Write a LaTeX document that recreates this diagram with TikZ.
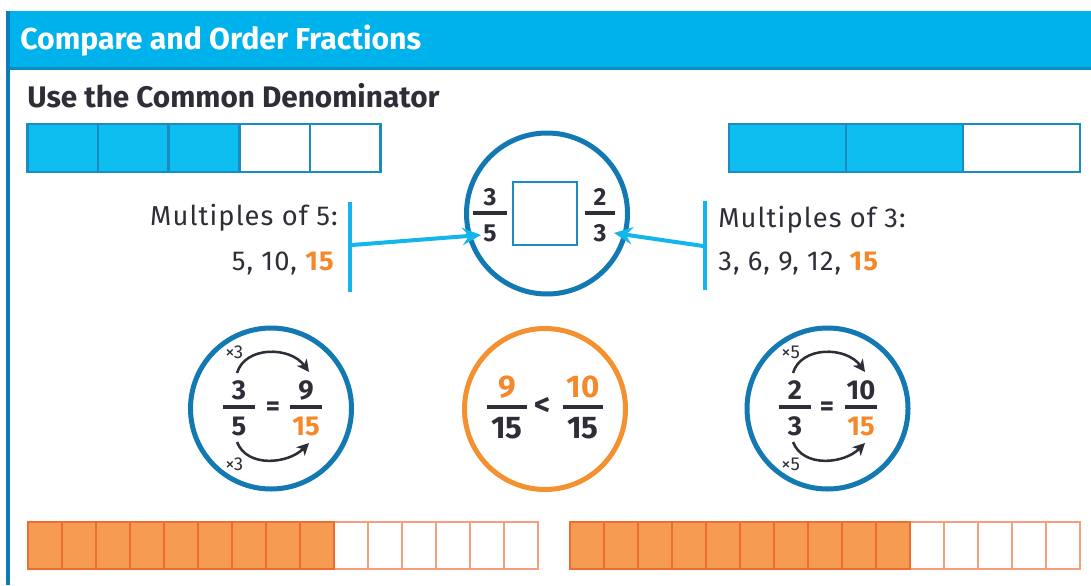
\documentclass[tikz,border=0pt]{standalone}
\usepackage{fontspec}
\setmainfont{Fira Sans}
\usetikzlibrary{arrows.meta}
\definecolor{hdr}{HTML}{00B2EC}
\definecolor{hdrdark}{HTML}{0A8FC4}
\definecolor{framec}{HTML}{0A7DB8}
\definecolor{barfill}{HTML}{0EBEF0}
\definecolor{barline}{HTML}{1A8CC0}
\definecolor{ringc}{HTML}{1379B2}
\definecolor{cyanarrow}{HTML}{12B6EB}
\definecolor{ink}{HTML}{2E2E38}
\definecolor{orng}{HTML}{F5892A}
\definecolor{orngring}{HTML}{F39130}
\definecolor{ofill}{HTML}{F59B52}
\definecolor{oline}{HTML}{EE6C2F}
\definecolor{olight}{HTML}{F4A07A}
\newcommand\tfnt{\fontsize{22.7}{26}\selectfont\bfseries}
\newcommand\sfnt{\fontsize{22.3}{26}\selectfont\bfseries}
\newcommand\mfnt{\fontsize{20.5}{24}\selectfont\addfontfeature{LetterSpace=4}}
\newcommand\dfntA{\fontsize{18.5}{22}\selectfont\bfseries}
\newcommand\dfntB{\fontsize{20.5}{24}\selectfont\bfseries}
\newcommand\dfntC{\fontsize{23.5}{27}\selectfont\bfseries}
\newcommand\xfnt{\fontsize{14}{17}\selectfont}
% name, x, bar y, half width, numerator, denominator, num baseline, den baseline, font style
\newcommand\fracat[9]{%
  \node[#9, anchor=base] (#1n) at (#2,#7) {#5};
  \draw[fbar] (#2-#4,#3) -- (#2+#4,#3);
  \node[#9, anchor=base] (#1d) at (#2,#8) {#6};}
\begin{document}
\begin{tikzpicture}[x=0.75pt,y=-0.75pt,
  txt/.style={inner sep=0pt, text=ink},
  mtxt/.style={txt, font=\mfnt},
  digA/.style={txt, font=\dfntA},
  digB/.style={txt, font=\dfntB},
  digC/.style={txt, font=\dfntC},
  xlab/.style={txt, font=\xfnt, anchor=base west},
  fbar/.style={ink, line width=3pt},
  tbar/.style={draw=barline, line width=1.9pt},
  ocell/.style={draw=oline, fill=ofill, line width=1.5pt},
  ecell/.style={draw=olight, fill=white, line width=1.5pt},
  ring/.style={circle, draw=ringc, line width=3.75pt, minimum size=120.75pt, inner sep=0pt},
  oring/.style={ring, draw=orngring},
  vline/.style={cyanarrow, line width=3.4pt},
  conn/.style={cyanarrow, line width=3pt, -{Stealth[length=14pt,width=13pt,inset=5pt]}},
  curv/.style={ink, line width=1.9pt, -{Stealth[length=9pt,width=9pt,inset=2.5pt]}}]
\useasboundingbox (0,0) rectangle (1091,585);
\fill[white] (0,0) rectangle (1091,585);
% header and frame
\fill[hdr] (7,11) rectangle (1091,69);
\draw[hdrdark, line width=1.6pt] (7,68.5) -- (1091,68.5);
\draw[framec, line width=2.4pt] (8,11) -- (8,585);
\node[txt, text=white, font=\tfnt, anchor=base west] (title) at (20,50) {Compare and Order Fractions};
\node[txt, font=\sfnt, anchor=base west] (sub) at (27,107) {Use the Common Denominator};
% top bars
\foreach \i in {3,4} \draw[tbar, fill=white] ({27.5+70.6*\i},124) rectangle ++(70.6,48);
\foreach \i in {0,1,2} \draw[tbar, fill=barfill] ({27.5+70.6*\i},124) rectangle ++(70.6,48);
\draw[tbar, fill=white] (963,124) rectangle (1080,172);
\foreach \i in {0,1} \draw[tbar, fill=barfill] ({729+117*\i},124) rectangle ++(117,48);
% comparison circle
\node[ring] (cmp) at (547,213.5) {};
\node[draw=barline, line width=1.5pt, minimum size=47.5pt, inner sep=0pt] (box) at (545,213.5) {};
\fracat{tl}{490}{213}{17}{3}{5}{205}{241}{digA}
\fracat{tr}{600}{213}{15}{2}{3}{205}{241}{digA}
% multiples
\node[mtxt, anchor=base east] (m5) at (338,225) {Multiples of 5:};
\node[mtxt, anchor=base east] (m5l) at (334,270) {5, 10, \textcolor{orng}{\bfseries 15}};
\node[mtxt, anchor=base west] (m3) at (718,227) {Multiples of 3:};
\node[mtxt, anchor=base west] (m3l) at (718,270) {3, 6, 9, 12, \textcolor{orng}{\bfseries 15}};
\coordinate (lvt) at (350,202); \coordinate (lvb) at (350,292);
\coordinate (rvt) at (705,201); \coordinate (rvb) at (705,290);
\draw[vline] (lvt) -- (lvb);
\draw[vline] (rvt) -- (rvb);
\coordinate (lfoot) at (352,245); \coordinate (ltip) at (481,235);
\coordinate (rfoot) at (703,246); \coordinate (rtip) at (614,233);
\draw[conn] (lfoot) -- (ltip);
\draw[conn] (rfoot) -- (rtip);
% left equivalence circle
\node[ring] (eqa) at (271,408.5) {};
\fracat{aa}{239}{407}{16}{3}{5}{399}{435}{digB}
\node[digB, anchor=base] (eqas) at (273,415) {=};
\fracat{ab}{306}{407}{16}{9}{\textcolor{orng}{15}}{399}{435}{digB}
\node[xlab] (xa1) at (225,358) {×3};
\node[xlab] (xa2) at (225,470) {×3};
\draw[curv] (237,373) .. controls (245,346) and (290,346) .. (309,372);
\draw[curv] (237,442) .. controls (247,468) and (288,464) .. (309,443);
% comparison result circle
\node[oring] (res) at (545,409) {};
\fracat{ra}{507}{407}{20}{\textcolor{orng}{9}}{15}{397}{438}{digC}
\node[digC, anchor=base] (lt) at (543,415) {<};
\fracat{rb}{583}{407}{20}{\textcolor{orng}{10}}{15}{397}{438}{digC}
% right equivalence circle
\node[ring] (eqb) at (827.5,408.5) {};
\fracat{ba}{795}{407}{16}{2}{3}{399}{435}{digB}
\node[digB, anchor=base] (eqbs) at (827,415) {=};
\fracat{bb}{861}{407}{16}{10}{\textcolor{orng}{15}}{399}{435}{digB}
\node[xlab] (xb1) at (781,358) {×5};
\node[xlab] (xb2) at (781,470) {×5};
\draw[curv] (793,373) .. controls (801,346) and (846,346) .. (865,372);
\draw[curv] (793,442) .. controls (803,468) and (844,464) .. (865,443);
% bottom bars
\foreach \i in {9,...,14} \draw[ecell] ({27.5+34.03*\i},522) rectangle ++(34.03,47);
\foreach \i in {0,...,8} \draw[ocell] ({27.5+34.03*\i},522) rectangle ++(34.03,47);
\foreach \i in {10,...,14} \draw[ecell] ({570+34*\i},522) rectangle ++(34,47);
\foreach \i in {0,...,9} \draw[ocell] ({570+34*\i},522) rectangle ++(34,47);
\end{tikzpicture}
\end{document}
